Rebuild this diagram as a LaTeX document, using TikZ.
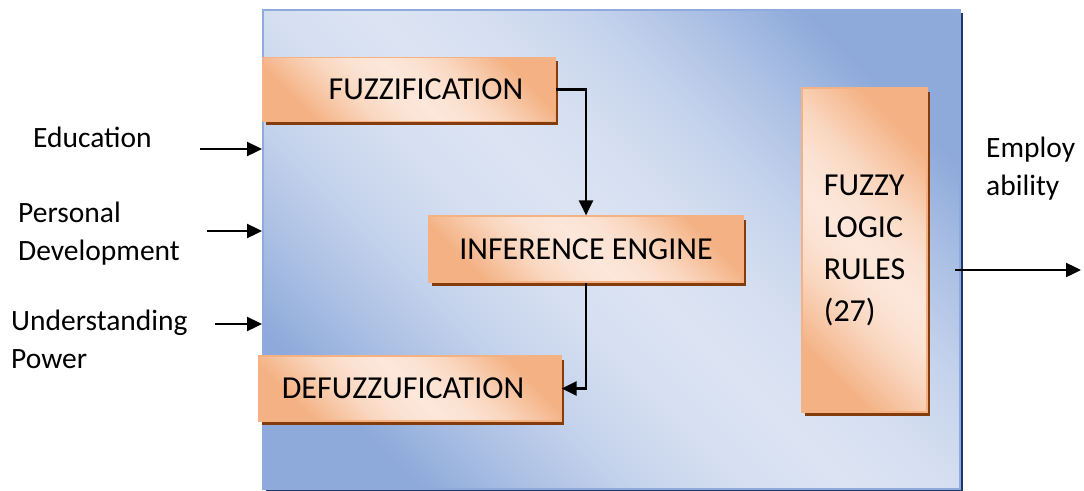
\documentclass[tikz,border=0pt]{standalone}
\usepackage{fontspec}
\setmainfont{Carlito}
\usetikzlibrary{arrows.meta,shadows,calc}

\definecolor{panelDark}{HTML}{8EAADB}
\definecolor{panelLight}{HTML}{DCE4F3}
\definecolor{panelLine}{HTML}{8FAADC}
\definecolor{panelShadow}{HTML}{203864}
\definecolor{peachDark}{HTML}{F4B183}
\definecolor{peachLight}{HTML}{FCE7DA}
\definecolor{peachLine}{HTML}{F4B183}
\definecolor{peachShadow}{HTML}{843C0C}

\colorlet{panelA}{panelDark!65!panelLight}
\colorlet{panelB}{panelDark!30!panelLight}
\colorlet{panelC}{panelDark!8!panelLight}
\colorlet{peachA}{peachDark!65!peachLight}
\colorlet{peachB}{peachDark!30!peachLight}
\colorlet{peachC}{peachDark!8!peachLight}

% mirrored gradients: dark at both ends, a broad light band in the middle
\pgfdeclareverticalshading{panelshade}{100bp}{%
  color(0bp)=(panelDark); color(24bp)=(panelDark); color(30bp)=(panelA);
  color(37bp)=(panelB); color(44bp)=(panelC); color(50bp)=(panelLight);
  color(56bp)=(panelC); color(63bp)=(panelB); color(70bp)=(panelA);
  color(76bp)=(panelDark); color(100bp)=(panelDark)}
\pgfdeclareverticalshading{peachshade}{100bp}{%
  color(0bp)=(peachDark); color(25bp)=(peachDark); color(31bp)=(peachA);
  color(37.5bp)=(peachB); color(44bp)=(peachC); color(50bp)=(peachLight);
  color(56bp)=(peachC); color(62.5bp)=(peachB); color(69bp)=(peachA);
  color(75bp)=(peachDark); color(100bp)=(peachDark)}

\begin{document}
\begin{tikzpicture}[x=1pt,y=-1pt,
  panel/.style={draw=panelLine, line width=2pt,
    shading=panelshade, shading angle=-45,
    general shadow={fill=panelShadow, shadow xshift=3pt, shadow yshift=-3pt},
    inner sep=0pt},
  stepbox/.style={draw=peachLine, line width=1.2pt,
    shading=peachshade, shading angle=-45,
    general shadow={fill=peachShadow, shadow xshift=3pt, shadow yshift=-3.5pt},
    inner sep=0pt, font=\fontsize{32}{42}\selectfont},
  label/.style={inner sep=0pt, align=left, font=\fontsize{29.5}{38}\selectfont},
  flow/.style={line width=2.4pt, -{Triangle[length=15pt,width=14pt]}}]

\useasboundingbox (0,0) rectangle (1084,490);

% outer block
\node[panel, minimum width=697pt, minimum height=479pt] (panel) at (611.5,249.5) {};

% processing stages
\node[stepbox, minimum width=292pt, minimum height=64pt] (fuzz) at (409,89.5)
  {\hspace*{34pt}FUZZIFICATION};
\node[stepbox, minimum width=314pt, minimum height=66pt] (inf) at (586,249)
  {INFERENCE ENGINE};
\node[stepbox, minimum width=302pt, minimum height=65pt] (defuzz) at (410,388.5)
  {DEFUZZUFICATION\hspace*{14pt}};
\node[stepbox, minimum width=125pt, minimum height=324pt, align=left] (rules) at (864.5,250)
  {FUZZY\\LOGIC\\RULES\\(27)};

% inputs and output labels (anchored at the baseline of the last line)
\node[label, anchor=base west] (edu) at (33,147) {Education};
\node[label, anchor=base west] (pers) at (18,260) {Personal\\Development};
\node[label, anchor=base west] (und) at (11,368) {Understanding\\Power};
\node[label, anchor=base west] (emp) at (986,195) {Employ\\ability};

\coordinate (eduA) at (200,149);
\coordinate (persA) at (207,231);
\coordinate (undA) at (215,324);
\coordinate (outA) at (955,270);
\coordinate (outB) at (1081,270);

\draw[flow] (eduA) -- (eduA -| panel.west);
\draw[flow] (persA) -- (persA -| panel.west);
\draw[flow] (undA) -- (undA -| panel.west);
\draw[flow] (outA) -- (outB);

% internal flow
\draw[flow] (fuzz.east) -| (inf.north);
\draw[flow] (inf.south) |- (defuzz.east);
\end{tikzpicture}
\end{document}
